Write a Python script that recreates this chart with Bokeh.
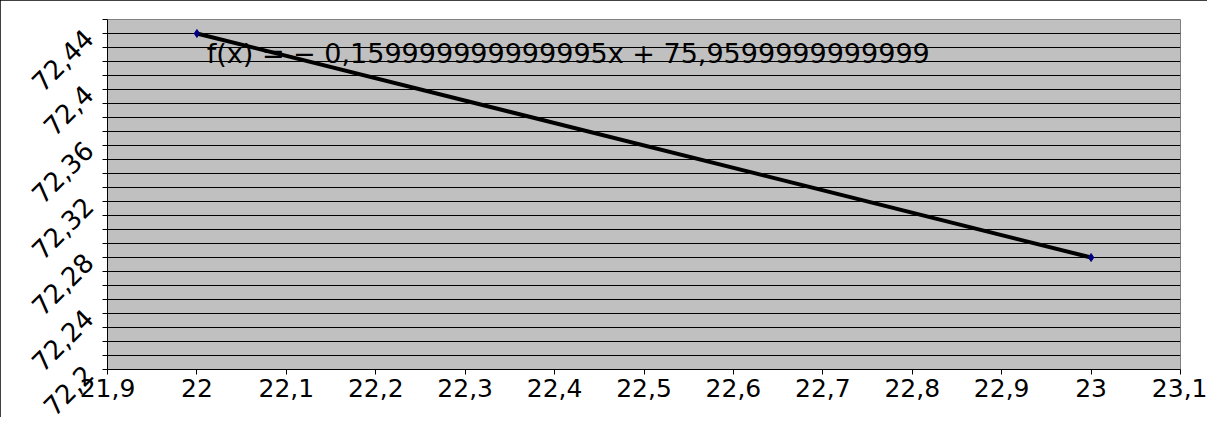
import numpy as np
from bokeh.plotting import figure
from bokeh.models import FixedTicker, Range1d
from bokeh.core.properties import value
from bokeh.embed import file_html
from bokeh.resources import INLINE

# data points
x_vals = [22.0, 23.0]
y_vals = [72.44, 72.28]

# axis ticks and labels
x_ticks = [21.9, 22.0, 22.1, 22.2, 22.3, 22.4, 22.5, 22.6, 22.7, 22.8, 22.9, 23.0, 23.1]
x_tick_labels = ["21,9", "22", "22,1", "22,2", "22,3", "22,4", "22,5", "22,6",
                 "22,7", "22,8", "22,9", "23", "23,1"]
y_grid_ticks = [72.2, 72.21, 72.22, 72.23, 72.24, 72.25, 72.26, 72.27, 72.28, 72.29,
                72.3, 72.31, 72.32, 72.33, 72.34, 72.35, 72.36, 72.37, 72.38, 72.39,
                72.4, 72.41, 72.42, 72.43, 72.44, 72.45]
y_label_ticks = [72.2, 72.24, 72.28, 72.32, 72.36, 72.4, 72.44]
y_tick_labels = ["72,2", "72,24", "72,28", "72,32", "72,36", "72,4", "72,44"]
equation = "f(x) = − 0,159999999999995x + 75,9599999999999"

FONT = "DejaVu Sans"

p = figure(width=1207, height=417, output_backend="svg", toolbar_location=None,
           x_range=Range1d(21.9, 23.1), y_range=Range1d(72.2, 72.45),
           min_border_left=107, min_border_right=27, min_border_top=19, min_border_bottom=48)

p.background_fill_color = "#c0c0c0"
p.border_fill_color = "white"
p.outline_line_color = "#808080"
p.outline_line_width = 1
p.styles = {"outline": "2px solid black", "outline-offset": "-2px"}

# x axis
p.xaxis.ticker = FixedTicker(ticks=x_ticks, minor_ticks=[])
p.xaxis.major_label_overrides = {t: l for t, l in zip(x_ticks, x_tick_labels)}
p.xaxis.axis_line_color = "black"
p.xaxis.axis_line_width = 1
p.xaxis.major_tick_out = 5
p.xaxis.major_tick_in = 0
p.xaxis.major_tick_line_color = "black"
p.xaxis.major_label_text_font = FONT
p.xaxis.major_label_text_font_size = "25px"
p.xaxis.major_label_text_color = "black"
p.xaxis.major_label_standoff = 4

# y axis
p.yaxis.ticker = FixedTicker(ticks=y_grid_ticks, minor_ticks=[])
y_over = {}
for t in y_grid_ticks:
    y_over[t] = ""
for t, l in zip(y_label_ticks, y_tick_labels):
    y_over[t] = l
p.yaxis.major_label_overrides = y_over
p.yaxis.axis_line_color = "black"
p.yaxis.axis_line_width = 1
p.yaxis.major_tick_out = 5
p.yaxis.major_tick_in = 0
p.yaxis.major_tick_line_color = "black"
p.yaxis.major_label_text_font = FONT
p.yaxis.major_label_text_font_size = "26px"
p.yaxis.major_label_text_color = "black"
p.yaxis.major_label_orientation = np.pi / 4
p.yaxis.major_label_standoff = 14

p.xgrid.visible = False
p.ygrid.grid_line_color = "black"
p.ygrid.grid_line_width = 1
p.ygrid.grid_line_alpha = 1.0

# equation text
p.text(x=[22.011], y=[72.4257], text=[equation], text_font=value(FONT),
       text_font_size="27px", text_baseline="alphabetic", text_align="left",
       text_color="black")

# linear trend line from the data
slope, intercept = np.polyfit(x_vals, y_vals, 1)
tx = [min(x_vals), max(x_vals)]
ty = [slope * v + intercept for v in tx]
p.line(tx, ty, line_color="black", line_width=4)

# data points
p.scatter(x_vals, y_vals, marker="diamond", size=8, color="#000080")

open("out.html", "w").write(file_html(p, INLINE))
